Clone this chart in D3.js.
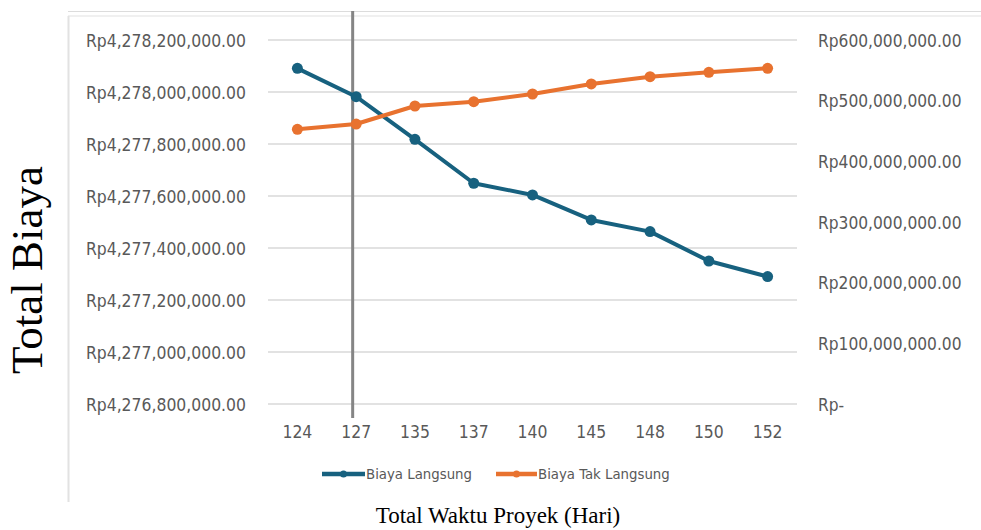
<!DOCTYPE html>
<html><head><meta charset="utf-8">
<script src="https://cdn.jsdelivr.net/npm/d3@7"></script>
<style>
html,body{margin:0;padding:0;background:#fff;}
svg{display:block;}
</style></head>
<body>
<svg id="chart" width="981" height="530"></svg>
<script>
const categories = ["124","127","135","137","140","145","148","150","152"];
const biayaLangsung = [4278091000, 4277982000, 4277818000, 4277649000, 4277604000, 4277508000, 4277463000, 4277350000, 4277290000];
const biayaTakLangsung = [452800000, 461500000, 491200000, 498300000, 511000000, 527500000, 539600000, 546700000, 553300000];
const leftTicks = [4276800000, 4277000000, 4277200000, 4277400000, 4277600000, 4277800000, 4278000000, 4278200000];
const rightTicks = [0, 100000000, 200000000, 300000000, 400000000, 500000000, 600000000];
const seriesNames = ["Biaya Langsung", "Biaya Tak Langsung"];
const markedCategory = "127";

const colors = ["#17617f", "#e8722f"];
const tickFont = "'Liberation Sans Narrow','Arial Narrow','DejaVu Sans Condensed',sans-serif";
const svg = d3.select("#chart");

const plot = {left: 268, right: 797, top: 40, bottom: 404};
const x = d3.scaleBand().domain(categories).range([plot.left, plot.right]);
const yL = d3.scaleLinear().domain([leftTicks[0], leftTicks[leftTicks.length-1]]).range([plot.bottom, plot.top]);
const yR = d3.scaleLinear().domain([rightTicks[0], rightTicks[rightTicks.length-1]]).range([plot.bottom, plot.top]);
const cx = c => x(c) + x.bandwidth()/2;

// frame
svg.append("line").attr("x1", 68).attr("x2", 981).attr("y1", 11.5).attr("y2", 11.5).attr("stroke", "#dcdcdc").attr("stroke-width", 1.2);
svg.append("line").attr("x1", 68).attr("x2", 981).attr("y1", 16).attr("y2", 16).attr("stroke", "#e2e2e2").attr("stroke-width", 1.2);
svg.append("line").attr("x1", 68.5).attr("x2", 68.5).attr("y1", 16).attr("y2", 502).attr("stroke", "#e2e2e2").attr("stroke-width", 2);

// gridlines
svg.append("g").selectAll("line").data(leftTicks).join("line")
  .attr("x1", plot.left).attr("x2", plot.right)
  .attr("y1", d => yL(d)).attr("y2", d => yL(d))
  .attr("stroke", "#d9d9d9").attr("stroke-width", 1.3);

// left axis
const fmt = d3.format(",.2f");
const gL = svg.append("g").attr("transform", `translate(${plot.left - 22},0)`)
  .call(d3.axisLeft(yL).tickValues(leftTicks).tickSize(0).tickPadding(0).tickFormat(d => "Rp" + fmt(d)));
gL.select(".domain").remove();
gL.selectAll("text").attr("font-family", tickFont).attr("font-size", 17.4).attr("fill", "#595959").attr("dy", "0.35em");

// right axis
const gR = svg.append("g").attr("transform", `translate(${plot.right + 21},0)`)
  .call(d3.axisRight(yR).tickValues(rightTicks).tickSize(0).tickPadding(0).tickFormat(d => d === 0 ? "Rp-" : "Rp" + fmt(d)));
gR.select(".domain").remove();
gR.selectAll("text").attr("font-family", tickFont).attr("font-size", 17.2).attr("fill", "#595959").attr("dy", "0.35em");

// x axis
const gX = svg.append("g").attr("transform", `translate(0,${plot.bottom + 28})`)
  .call(d3.axisBottom(x).tickSize(0).tickPadding(0));
gX.select(".domain").remove();
gX.selectAll("text").attr("font-family", tickFont).attr("font-size", 17.4).attr("fill", "#595959").attr("dy", "0.35em");

// vertical marker line
svg.append("line")
  .attr("x1", cx(markedCategory) - 3.5).attr("x2", cx(markedCategory) - 3.5)
  .attr("y1", 11).attr("y2", 418)
  .attr("stroke", "#858585").attr("stroke-width", 3);

// series
const series = [
  {name: seriesNames[0], values: biayaLangsung, y: yL, color: colors[0]},
  {name: seriesNames[1], values: biayaTakLangsung, y: yR, color: colors[1]}
];
series.forEach(s => {
  const line = d3.line().x((d,i) => cx(categories[i])).y(d => s.y(d));
  svg.append("path").datum(s.values).attr("d", line)
    .attr("fill", "none").attr("stroke", s.color).attr("stroke-width", 4).attr("stroke-linejoin", "round");
  svg.append("g").selectAll("circle").data(s.values).join("circle")
    .attr("cx", (d,i) => cx(categories[i])).attr("cy", d => s.y(d)).attr("r", 5.5)
    .attr("fill", s.color);
});

// legend
const legendY = 474;
const legendItems = [{x: 322, w: 43}, {x: 496, w: 41}];
series.forEach((s, i) => {
  const g = svg.append("g");
  const L = legendItems[i];
  g.append("line").attr("x1", L.x).attr("x2", L.x + L.w).attr("y1", legendY).attr("y2", legendY)
    .attr("stroke", s.color).attr("stroke-width", 4.5);
  g.append("circle").attr("cx", L.x + L.w/2).attr("cy", legendY).attr("r", 3.5).attr("fill", s.color);
  g.append("text").attr("x", L.x + L.w + 1).attr("y", legendY).attr("dy", "0.35em")
    .attr("font-family", tickFont).attr("font-size", 14.8).attr("fill", "#595959").text(s.name);
});

// axis titles
svg.append("text").attr("transform", "translate(42,270) rotate(-90)")
  .attr("text-anchor", "middle").attr("font-family", "'Liberation Serif','Times New Roman',serif")
  .attr("font-size", 45).attr("fill", "#000").text("Total Biaya");
svg.append("text").attr("x", 498).attr("y", 523)
  .attr("text-anchor", "middle").attr("font-family", "'Liberation Serif','Times New Roman',serif")
  .attr("font-size", 23).attr("fill", "#000").text("Total Waktu Proyek (Hari)");
</script>
</body></html>
